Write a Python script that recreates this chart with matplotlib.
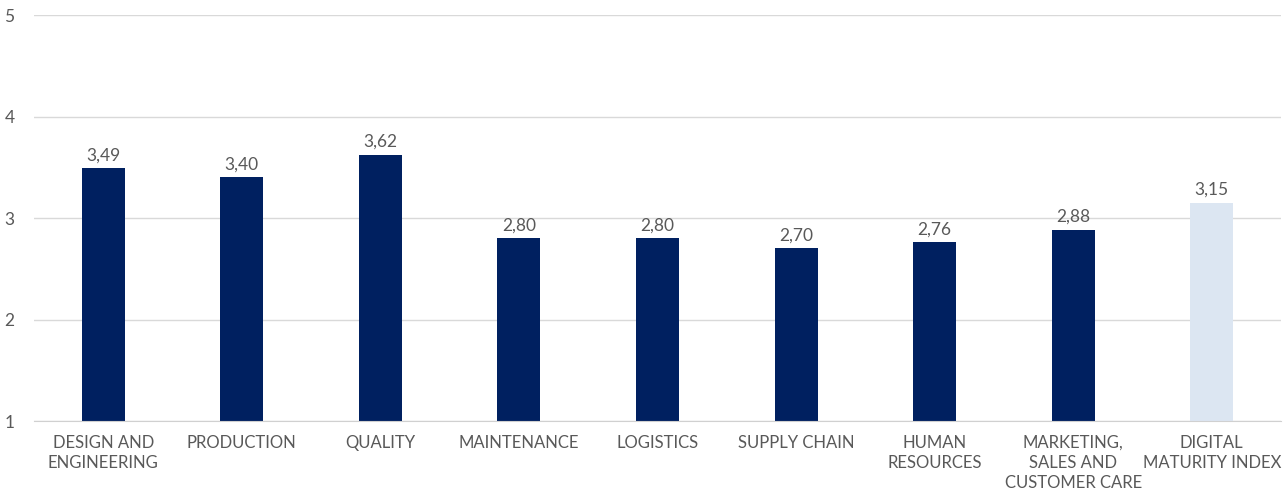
import matplotlib.pyplot as plt

# functional areas and their maturity scores
categories = ["DESIGN AND\nENGINEERING", "PRODUCTION", "QUALITY", "MAINTENANCE",
              "LOGISTICS", "SUPPLY CHAIN", "HUMAN\nRESOURCES",
              "MARKETING,\nSALES AND\nCUSTOMER CARE", "DIGITAL\nMATURITY INDEX"]
scores = [3.49, 3.40, 3.62, 2.80, 2.80, 2.70, 2.76, 2.88, 3.15]
yticks = [1, 2, 3, 4, 5]

plt.rcParams['font.family'] = ['Lato', 'DejaVu Sans']
grey = '#595959'
colors = ['#002060'] * (len(scores) - 1) + ['#dce6f2']

fig = plt.figure(figsize=(12.83, 4.95), dpi=100)
ax = fig.add_axes([34 / 1283, 1 - 421 / 495, 1247 / 1283, 406 / 495])

x = range(len(categories))
bars = ax.bar(x, [s - 1 for s in scores], bottom=1, width=0.31, color=colors, zorder=3)

for xi, s in zip(x, scores):
    ax.text(xi, s + 0.05, f"{s:.2f}".replace('.', ','), ha='center', va='bottom',
            fontsize=12.5, color=grey)

ax.set_xlim(-0.5, len(categories) - 0.5)
ax.set_ylim(1, 5)
ax.set_yticks(yticks)
ax.set_yticklabels([str(t) for t in yticks], fontsize=12.5, color=grey)
ax.set_xticks(list(x))
ax.set_xticklabels(categories, fontsize=12, color=grey, linespacing=1.3)
ax.tick_params(axis='both', length=0)
ax.tick_params(axis='y', pad=14)
ax.tick_params(axis='x', pad=10)

ax.grid(axis='y', color='#d9d9d9', linewidth=1, zorder=0)
for sp in ['top', 'right', 'left']:
    ax.spines[sp].set_visible(False)
ax.spines['bottom'].set_color('#d0d0d0')
ax.spines['bottom'].set_zorder(4)

fig.savefig('out.png', dpi=100)
